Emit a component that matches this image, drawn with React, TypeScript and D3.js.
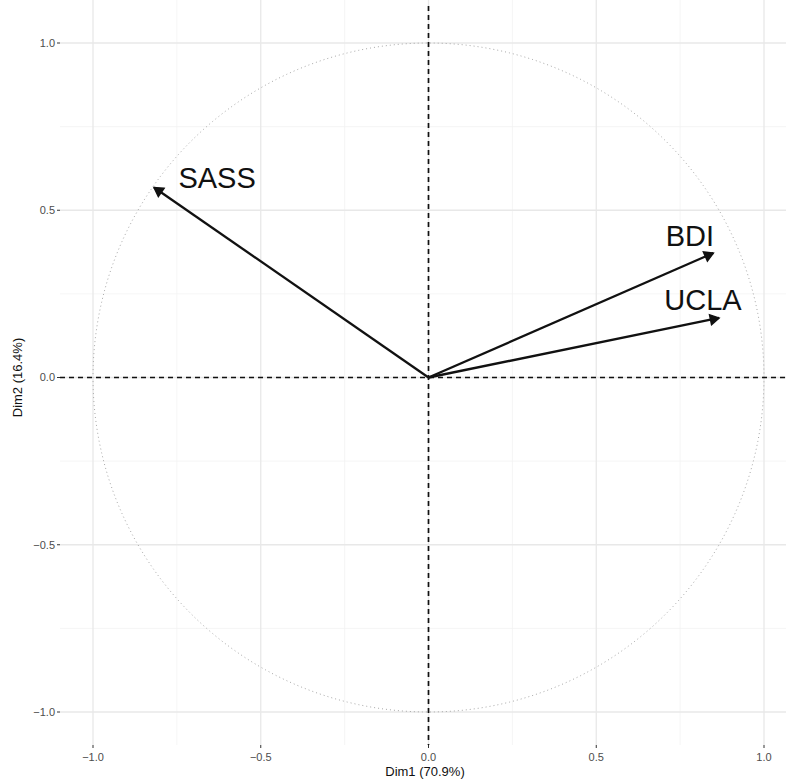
import React from "react";
import * as d3 from "d3";

// variables of the PCA correlation circle
const varNames = ["SASS", "BDI", "UCLA"];
const dim1 = [-0.818, 0.849, 0.866];
const dim2 = [0.568, 0.372, 0.178];
// repelled label anchors (data units)
const labelX = [-0.63, 0.779, 0.818];
const labelY = [0.597, 0.424, 0.233];

const majorTicks = [-1.0, -0.5, 0.0, 0.5, 1.0];
const minorTicks = [-0.75, -0.25, 0.25, 0.75];

const W = 786,
  H = 783;
const panel = { left: 60, right: 786, top: 0, bottom: 745 };

export default function App() {
  const x = d3.scaleLinear().domain([-1, 1]).range([93, 764]);
  const y = d3.scaleLinear().domain([-1, 1]).range([712, 43]);

  const circle = d3.range(0, 361, 1).map((a) => {
    const r = (a * Math.PI) / 180;
    return [x(Math.cos(r)), y(Math.sin(r))] as [number, number];
  });
  const circlePath = d3.line()(circle) || "";

  function arrowHead(x1: number, y1: number, x2: number, y2: number) {
    const ang = Math.atan2(y2 - y1, x2 - x1);
    const len = 10,
      spread = Math.PI / 6;
    const a = [x2 - len * Math.cos(ang - spread), y2 - len * Math.sin(ang - spread)];
    const b = [x2 - len * Math.cos(ang + spread), y2 - len * Math.sin(ang + spread)];
    return `M${a[0]},${a[1]}L${x2},${y2}L${b[0]},${b[1]}Z`;
  }

  return (
    <svg width={W} height={H} style={{ position: "absolute", left: 0, top: 0 }}>
      <rect width={W} height={H} fill="#fff" />
      {/* minor grid */}
      {minorTicks.map((t) => (
        <g key={"mn" + t}>
          <line x1={x(t)} x2={x(t)} y1={panel.top} y2={panel.bottom} stroke="#f3f3f3" strokeWidth={0.8} />
          <line x1={panel.left} x2={panel.right} y1={y(t)} y2={y(t)} stroke="#f3f3f3" strokeWidth={0.8} />
        </g>
      ))}
      {/* major grid */}
      {majorTicks.map((t) => (
        <g key={"mj" + t}>
          <line x1={x(t)} x2={x(t)} y1={panel.top} y2={panel.bottom} stroke="#e8e8e8" strokeWidth={1.3} />
          <line x1={panel.left} x2={panel.right} y1={y(t)} y2={y(t)} stroke="#e8e8e8" strokeWidth={1.3} />
        </g>
      ))}
      {/* unit circle */}
      <path d={circlePath} fill="none" stroke="#a8a8a8" strokeWidth={1} strokeDasharray="1,3" />
      {/* reference lines */}
      <line x1={panel.left} x2={panel.right} y1={y(0)} y2={y(0)} stroke="#111" strokeWidth={1.7} strokeDasharray="5,4" />
      <line x1={x(0)} x2={x(0)} y1={panel.top + 6} y2={panel.bottom} stroke="#111" strokeWidth={1.7} strokeDasharray="5,4" />
      {/* arrows */}
      {varNames.map((n, i) => {
        const x2 = x(dim1[i]),
          y2 = y(dim2[i]);
        return (
          <g key={n}>
            <line x1={x(0)} y1={y(0)} x2={x2} y2={y2} stroke="#111" strokeWidth={2.3} />
            <path d={arrowHead(x(0), y(0), x2, y2)} fill="#111" stroke="#111" strokeWidth={1.5} strokeLinejoin="miter" />
            <text
              x={x(labelX[i])}
              y={y(labelY[i])}
              dy="0.36em"
              textAnchor="middle"
              fontFamily="'Liberation Sans', Arial, sans-serif"
              fontSize={29}
              fill="#111"
            >
              {n}
            </text>
          </g>
        );
      })}
      {/* axes ticks & labels */}
      {majorTicks.map((t) => (
        <g key={"ax" + t} fontFamily="'Liberation Sans', Arial, sans-serif" fontSize={11} fill="#4d4d4d">
          <line x1={x(t)} x2={x(t)} y1={panel.bottom} y2={panel.bottom + 3} stroke="#333" strokeWidth={1} />
          <text x={x(t)} y={panel.bottom + 16} textAnchor="middle">
            {d3.format(".1f")(t).replace("-", "\u2212")}
          </text>
          <line x1={panel.left - 3} x2={panel.left} y1={y(t)} y2={y(t)} stroke="#333" strokeWidth={1} />
          <text x={panel.left - 5} y={y(t)} dy="0.35em" textAnchor="end">
            {d3.format(".1f")(t).replace("-", "\u2212")}
          </text>
        </g>
      ))}
      <text x={425} y={776} textAnchor="middle" fontFamily="'Liberation Sans', Arial, sans-serif" fontSize={13} fill="#111">
        Dim1 (70.9%)
      </text>
      <text
        transform={`translate(22,${y(0)}) rotate(-90)`}
        textAnchor="middle"
        fontFamily="'Liberation Sans', Arial, sans-serif"
        fontSize={13}
        fill="#111"
      >
        Dim2 (16.4%)
      </text>
    </svg>
  );
}
